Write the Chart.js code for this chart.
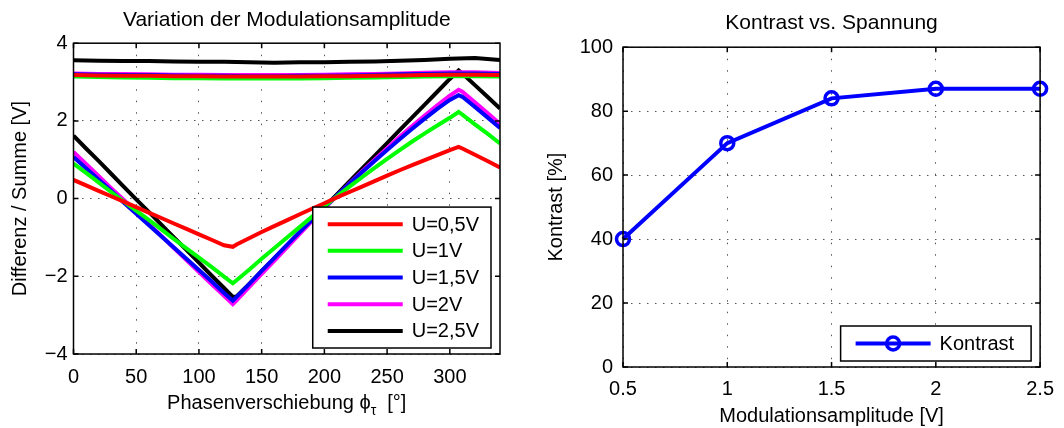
<!DOCTYPE html>
<html>
<head>
<meta charset="utf-8">
<script src="https://cdn.jsdelivr.net/npm/chart.js@4.4.0/dist/chart.umd.min.js"></script>
<style>
  html, body { margin: 0; padding: 0; background: #fff; }
  #left { position: absolute; left: 0; top: 0; width: 530px; height: 428px; }
  #right { position: absolute; left: 540px; top: 0; width: 524px; height: 428px; }
</style>
</head>
<body>
<div id="left"><canvas id="chart_modulation"></canvas></div>
<div id="right"><canvas id="chart_kontrast"></canvas></div>
<script>
// --- Differenz / Summe over phase shift ---
var phaseDeg = [0, 10, 20, 30, 40, 50, 60, 70, 80, 90, 100, 110, 120, 127, 130, 140, 150, 160, 170, 180,
                190, 200, 210, 220, 230, 240, 250, 260, 270, 280, 290, 300, 307, 310, 320, 330, 340];
var diffU05 = [0.48, 0.34, 0.20, 0.06, -0.08, -0.22, -0.36, -0.50, -0.64, -0.78, -0.92, -1.06, -1.20, -1.24, -1.18,
               -1.02, -0.86, -0.71, -0.56, -0.41, -0.26, -0.12, 0.03, 0.17, 0.31, 0.45, 0.59, 0.73, 0.86, 0.99, 1.12, 1.25,
               1.33, 1.29, 1.13, 0.97, 0.80];
var diffU10 = [0.90, 0.66, 0.42, 0.17, -0.07, -0.31, -0.55, -0.79, -1.04, -1.28, -1.52, -1.76, -2.01, -2.18, -2.10,
               -1.83, -1.55, -1.28, -1.01, -0.74, -0.47, -0.20, 0.06, 0.31, 0.55, 0.79, 1.02, 1.25, 1.47, 1.68, 1.88, 2.08,
               2.23, 2.16, 1.91, 1.67, 1.42];
var diffU15 = [1.07, 0.78, 0.49, 0.20, -0.10, -0.39, -0.68, -0.97, -1.26, -1.55, -1.84, -2.13, -2.43, -2.63, -2.53,
               -2.20, -1.86, -1.53, -1.20, -0.87, -0.55, -0.23, 0.08, 0.38, 0.68, 0.97, 1.25, 1.53, 1.80, 2.06, 2.31, 2.54,
               2.66, 2.62, 2.36, 2.09, 1.82];
var diffU20 = [1.20, 0.89, 0.58, 0.27, -0.03, -0.34, -0.65, -0.96, -1.27, -1.58, -1.89, -2.20, -2.50, -2.72, -2.62,
               -2.28, -1.94, -1.60, -1.26, -0.92, -0.58, -0.25, 0.07, 0.39, 0.70, 1.00, 1.30, 1.59, 1.87, 2.14, 2.40, 2.65,
               2.80, 2.75, 2.48, 2.20, 1.92];
var diffU25 = [1.62, 1.29, 0.97, 0.64, 0.31, -0.02, -0.34, -0.67, -1.00, -1.32, -1.65, -1.98, -2.30, -2.53, -2.52,
               -2.20, -1.87, -1.54, -1.21, -0.88, -0.55, -0.22, 0.11, 0.44, 0.77, 1.10, 1.43, 1.76, 2.09, 2.42, 2.75, 3.08,
               3.30, 3.22, 2.92, 2.62, 2.32];

var sumDeg = [0, 20, 40, 60, 80, 100, 120, 140, 160, 180, 200, 220, 240, 260, 280, 300, 320, 340];
var sumU05 = [3.18, 3.17, 3.16, 3.16, 3.15, 3.15, 3.14, 3.14, 3.14, 3.14, 3.15, 3.15, 3.16, 3.17, 3.18, 3.19, 3.19, 3.18];
var sumU10 = [3.14, 3.13, 3.12, 3.11, 3.10, 3.10, 3.09, 3.09, 3.09, 3.09, 3.10, 3.11, 3.12, 3.13, 3.14, 3.15, 3.15, 3.14];
var sumU15 = [3.20, 3.19, 3.18, 3.18, 3.17, 3.16, 3.16, 3.15, 3.15, 3.16, 3.16, 3.17, 3.18, 3.20, 3.21, 3.22, 3.22, 3.21];
var sumU20 = [3.22, 3.21, 3.21, 3.20, 3.19, 3.19, 3.18, 3.18, 3.18, 3.18, 3.19, 3.20, 3.21, 3.22, 3.24, 3.25, 3.25, 3.23];
var sumU25 = [3.56, 3.55, 3.54, 3.54, 3.53, 3.52, 3.52, 3.51, 3.50, 3.51, 3.51, 3.52, 3.53, 3.55, 3.57, 3.60, 3.62, 3.57];

var voltLabels = ['U=0,5V', 'U=1V', 'U=1,5V', 'U=2V', 'U=2,5V'];
var voltColors = ['#ff0000', '#00ff00', '#0000ff', '#ff00ff', '#000000'];

var phaseTicks = [0, 50, 100, 150, 200, 250, 300];
var phaseTickLabels = ['0', '50', '100', '150', '200', '250', '300'];
var ratioTicks = [-4, -2, 0, 2, 4];
var ratioTickLabels = ['\u22124', '\u22122', '0', '2', '4'];

// --- Kontrast over modulation amplitude ---
var amplitudeV = [0.5, 1, 1.5, 2, 2.5];
var kontrastPct = [40, 70, 84, 87, 87];
var amplitudeTicks = [0.5, 1, 1.5, 2, 2.5];
var amplitudeTickLabels = ['0.5', '1', '1.5', '2', '2.5'];
var kontrastTicks = [0, 20, 40, 60, 80, 100];
var kontrastTickLabels = ['0', '20', '40', '60', '80', '100'];

var FONT = '"Liberation Sans", Arial, Helvetica, sans-serif';
Chart.defaults.font.family = FONT;
Chart.defaults.font.size = 20;
Chart.defaults.color = '#000';

function pairs(xs, ys) {
    return xs.map(function (x, i) { return { x: x, y: ys[i] }; });
}

// box + inward ticks on all four sides
var matlabFrame = {
    id: 'matlabFrame',
    afterDatasetsDraw: function (chart) {
        var ctx = chart.ctx, a = chart.chartArea;
        var xs = chart.scales.x, ys = chart.scales.y, tl = 5;
        ctx.save();
        ctx.strokeStyle = '#000';
        ctx.lineWidth = 1.5;
        ctx.strokeRect(a.left, a.top, a.right - a.left, a.bottom - a.top);
        ctx.beginPath();
        xs.ticks.forEach(function (t) {
            var px = xs.getPixelForValue(t.value);
            ctx.moveTo(px, a.bottom); ctx.lineTo(px, a.bottom - tl);
            ctx.moveTo(px, a.top); ctx.lineTo(px, a.top + tl);
        });
        ys.ticks.forEach(function (t) {
            var py = ys.getPixelForValue(t.value);
            ctx.moveTo(a.left, py); ctx.lineTo(a.left + tl, py);
            ctx.moveTo(a.right, py); ctx.lineTo(a.right - tl, py);
        });
        ctx.stroke();
        ctx.restore();
    }
};

// legend box in the lower right corner of the plot
var boxLegend = {
    id: 'boxLegend',
    afterDraw: function (chart, args, opts) {
        var ctx = chart.ctx, a = chart.chartArea;
        var items = chart.data.datasets.filter(function (d) { return d.label; });
        ctx.save();
        ctx.font = '20px ' + FONT;
        var textW = Math.max.apply(null, items.map(function (d) { return ctx.measureText(d.label).width; }));
        var w = 15 + 75 + 9 + textW + opts.padRight;
        var h = items.length * opts.rowHeight + opts.padY * 2;
        var x = a.right - opts.right - w;
        var y = a.bottom - opts.bottom - h;
        ctx.fillStyle = '#fff';
        ctx.fillRect(x, y, w, h);
        ctx.strokeStyle = '#000';
        ctx.lineWidth = 1.5;
        ctx.strokeRect(x, y, w, h);
        items.forEach(function (d, i) {
            var cy = y + opts.padY + opts.rowHeight * (i + 0.5);
            ctx.strokeStyle = d.borderColor;
            ctx.lineWidth = d.borderWidth;
            ctx.beginPath();
            ctx.moveTo(x + 15, cy);
            ctx.lineTo(x + 90, cy);
            ctx.stroke();
            if (d.pointRadius) {
                ctx.lineWidth = d.pointBorderWidth;
                ctx.beginPath();
                ctx.arc(x + 52.5, cy, d.pointRadius, 0, Math.PI * 2);
                ctx.stroke();
            }
            ctx.fillStyle = '#000';
            ctx.textBaseline = 'middle';
            ctx.textAlign = 'left';
            ctx.fillText(d.label, x + 99, cy + 1);
        });
        ctx.restore();
    }
};

// x axis title with subscript tau
var phaseAxisTitle = {
    id: 'phaseAxisTitle',
    afterDraw: function (chart) {
        var ctx = chart.ctx, a = chart.chartArea;
        var main = 'Phasenverschiebung \u03d5', sub = '\u03c4', tail = '  [\u00b0]';
        ctx.save();
        ctx.fillStyle = '#000';
        ctx.textBaseline = 'middle';
        ctx.textAlign = 'left';
        ctx.font = '20px ' + FONT;
        var w1 = ctx.measureText(main).width, w3 = ctx.measureText(tail).width;
        ctx.font = '14px ' + FONT;
        var w2 = ctx.measureText(sub).width;
        var x = (a.left + a.right) / 2 - (w1 + w2 + w3) / 2;
        var y = a.bottom + 49;
        ctx.font = '20px ' + FONT;
        ctx.fillText(main, x, y);
        ctx.font = '14px ' + FONT;
        ctx.fillText(sub, x + w1, y + 8);
        ctx.font = '20px ' + FONT;
        ctx.fillText(tail, x + w1 + w2, y);
        ctx.restore();
    }
};

var diffSeries = [diffU05, diffU10, diffU15, diffU20, diffU25];
var sumSeries = [sumU05, sumU10, sumU15, sumU20, sumU25];
var leftDatasets = [];
sumSeries.forEach(function (s, i) {
    leftDatasets.push({ data: pairs(sumDeg, s), borderColor: voltColors[i], borderWidth: 4, pointRadius: 0 });
});
diffSeries.forEach(function (s, i) {
    leftDatasets.push({ label: voltLabels[i], data: pairs(phaseDeg, s), borderColor: voltColors[i], borderWidth: 4, pointRadius: 0 });
});

var chart_modulation = new Chart(document.getElementById('chart_modulation'), {
    type: 'line',
    data: { datasets: leftDatasets },
    options: {
        animation: false,
        responsive: true,
        maintainAspectRatio: false,
        layout: { padding: { left: 0, right: 30, top: 0, bottom: 0 } },
        plugins: {
            legend: { display: false },
            tooltip: { enabled: false },
            title: {
                display: true,
                fullSize: false,
                text: 'Variation der Modulationsamplitude',
                font: { size: 21, weight: 'normal' },
                padding: { top: 8, bottom: 10 }
            },
            boxLegend: { right: 9, bottom: 6, rowHeight: 26.7, padY: 3.7, padRight: 12 }
        },
        scales: {
            x: {
                type: 'linear',
                min: 0,
                max: 340,
                afterBuildTicks: function (s) { s.ticks = phaseTicks.map(function (v) { return { value: v }; }); },
                afterFit: function (s) { s.height = 74; },
                ticks: {
                    padding: 11,
                    maxRotation: 0,
                    callback: function (v, i) { return phaseTickLabels[i]; }
                },
                grid: { color: '#555', lineWidth: 1, drawTicks: false },
                border: { display: false, dash: [1.5, 10] }
            },
            y: {
                type: 'linear',
                min: -4,
                max: 4,
                afterBuildTicks: function (s) { s.ticks = ratioTicks.map(function (v) { return { value: v }; }); },
                afterFit: function (s) { s.width = 73.5; },
                ticks: {
                    padding: 6,
                    callback: function (v, i) { return ratioTickLabels[i]; }
                },
                title: {
                    display: true,
                    text: 'Differenz / Summe [V]',
                    font: { size: 20 },
                    padding: { top: 8, bottom: 0 }
                },
                grid: { color: '#555', lineWidth: 1, drawTicks: false },
                border: { display: false, dash: [1.5, 6.5] }
            }
        }
    },
    plugins: [matlabFrame, boxLegend, phaseAxisTitle]
});

var chart_kontrast = new Chart(document.getElementById('chart_kontrast'), {
    type: 'line',
    data: {
        datasets: [{
            label: 'Kontrast',
            data: pairs(amplitudeV, kontrastPct),
            borderColor: '#0000ff',
            borderWidth: 4,
            pointRadius: 6.5,
            pointBorderWidth: 3.5,
            pointBackgroundColor: 'rgba(0,0,0,0)',
            pointBorderColor: '#0000ff',
            clip: false
        }]
    },
    options: {
        animation: false,
        responsive: true,
        maintainAspectRatio: false,
        layout: { padding: { left: 0, right: 18, top: 0, bottom: 0 } },
        plugins: {
            legend: { display: false },
            tooltip: { enabled: false },
            title: {
                display: true,
                fullSize: false,
                text: 'Kontrast vs. Spannung',
                font: { size: 21, weight: 'normal' },
                padding: { top: 11, bottom: 11 }
            },
            boxLegend: { right: 9, bottom: 6, rowHeight: 28, padY: 3.5, padRight: 17 }
        },
        scales: {
            x: {
                type: 'linear',
                min: 0.5,
                max: 2.5,
                afterBuildTicks: function (s) { s.ticks = amplitudeTicks.map(function (v) { return { value: v }; }); },
                afterFit: function (s) { s.height = 61; },
                ticks: {
                    padding: 10,
                    maxRotation: 0,
                    callback: function (v, i) { return amplitudeTickLabels[i]; }
                },
                title: {
                    display: true,
                    text: 'Modulationsamplitude [V]',
                    font: { size: 20 },
                    padding: { top: 0, bottom: 0 }
                },
                grid: { color: '#555', lineWidth: 1, drawTicks: false },
                border: { display: false, dash: [1.5, 10] }
            },
            y: {
                type: 'linear',
                min: 0,
                max: 100,
                afterBuildTicks: function (s) { s.ticks = kontrastTicks.map(function (v) { return { value: v }; }); },
                afterFit: function (s) { s.width = 83; },
                ticks: {
                    padding: 10,
                    callback: function (v, i) { return kontrastTickLabels[i]; }
                },
                title: {
                    display: true,
                    text: 'Kontrast [%]',
                    font: { size: 20 },
                    padding: { top: 4, bottom: 0 }
                },
                grid: { color: '#555', lineWidth: 1, drawTicks: false },
                border: { display: false, dash: [1.5, 6.5] }
            }
        }
    },
    plugins: [matlabFrame, boxLegend]
});
</script>
</body>
</html>
